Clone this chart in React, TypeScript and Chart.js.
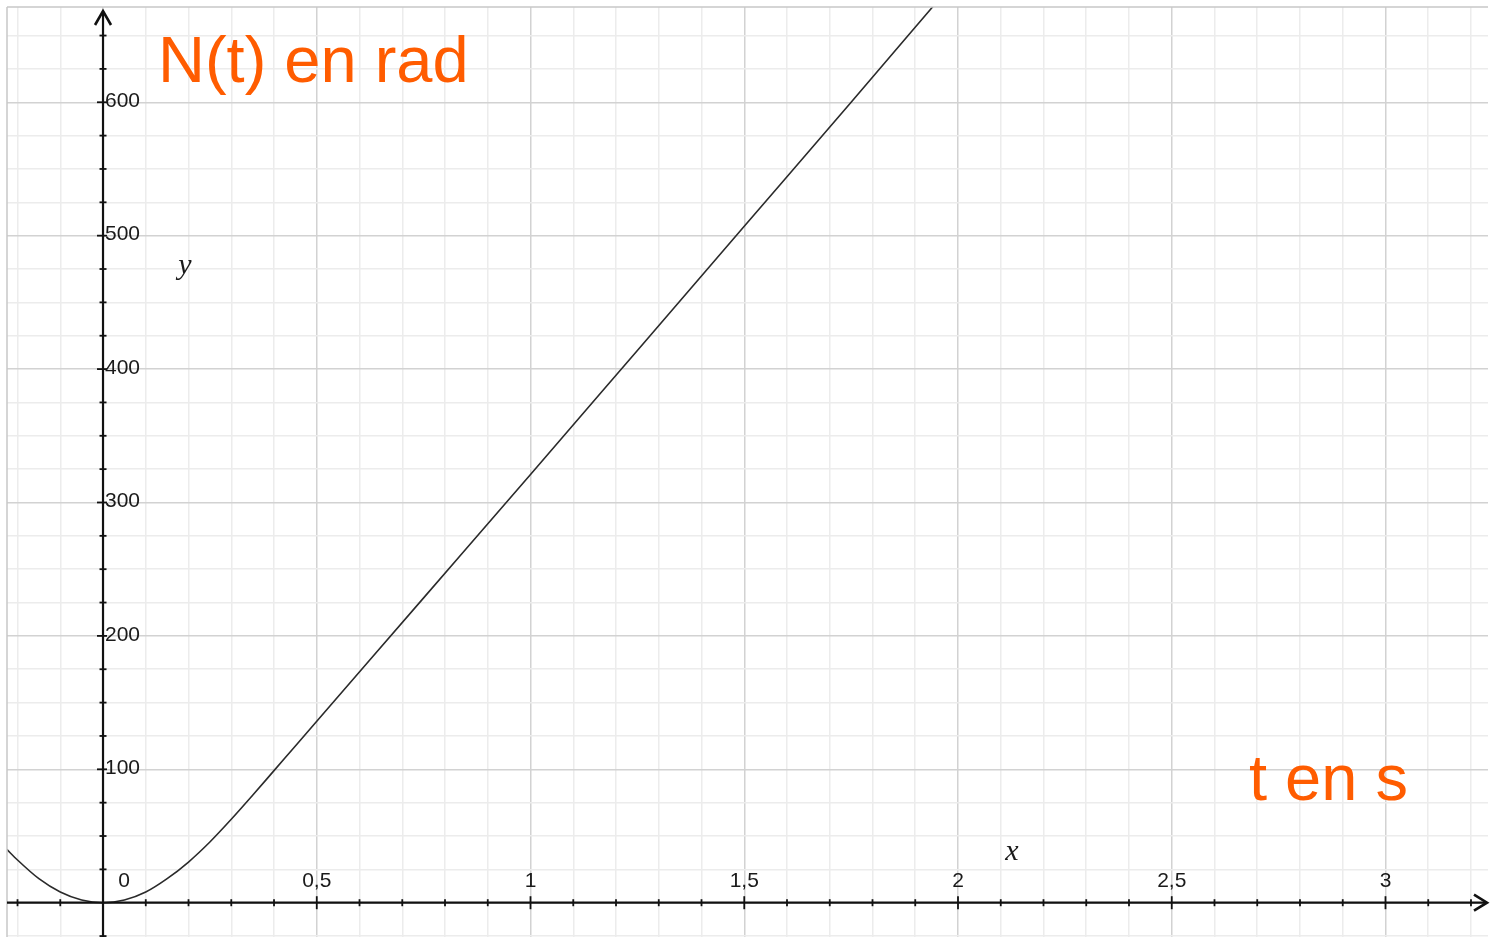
import React, { useEffect, useRef } from "react";
import { Chart, registerables } from "chart.js";

Chart.register(...registerables);

// Curve N(t)
const tValues = [-0.225, -0.2, -0.15, -0.1, -0.05, 0, 0.05, 0.1, 0.15, 0.2, 0.25, 0.3, 0.35, 0.4, 0.45, 0.5, 0.75, 1, 1.25, 1.5, 1.75, 1.95];
const nValues = [40, 32, 18, 8, 2, 0, 2, 8, 18, 30.5, 45.5, 62.5, 80.5, 99, 117.5, 136, 228.5, 321, 414, 507, 600, 675];

// Axis ranges
const xMin = -0.2246;
const xMax = 3.2398;
const yMin = -25.7;
const yMax = 671.4;

// Tick labels
const xTickValues = [0.5, 1, 1.5, 2, 2.5, 3];
const xTickLabels = ["0,5", "1", "1,5", "2", "2,5", "3"];
const yTickValues = [100, 200, 300, 400, 500, 600];
const yTickLabels = ["100", "200", "300", "400", "500", "600"];
const originLabel = "0";

// Grid steps (tenths of seconds / quarter hundreds)
const xGridTenths = [-2, 32];
const yGridQuarters = [-1, 26];

const yTitle = "N(t) en rad";
const xTitle = "t en s";

const ORANGE = "#ff5c00";
const SANS = '"Liberation Sans", Arial, sans-serif';
const SERIF = '"Liberation Serif", "DejaVu Serif", serif';

function isMultiple(v: number, step: number) {
  const r = v / step;
  return Math.abs(r - Math.round(r)) < 1e-6;
}

const axesPlugin = {
  id: "axesPlugin",
  afterDatasetsDraw(chart: any) {
    const ctx = chart.ctx as CanvasRenderingContext2D;
    const xs = chart.scales.x;
    const ys = chart.scales.y;
    const area = chart.chartArea;
    const x0 = xs.getPixelForValue(0);
    const y0 = ys.getPixelForValue(0);
    ctx.save();
    // border lines
    ctx.strokeStyle = "#c8c8c8";
    ctx.lineWidth = 1.5;
    ctx.beginPath();
    ctx.moveTo(area.left, area.top);
    ctx.lineTo(area.right, area.top);
    ctx.moveTo(area.left, area.top);
    ctx.lineTo(area.left, area.bottom);
    ctx.stroke();

    ctx.strokeStyle = "#111";
    ctx.fillStyle = "#111";
    ctx.lineWidth = 2.2;
    // x axis
    ctx.beginPath();
    ctx.moveTo(area.left, y0);
    ctx.lineTo(area.right - 1, y0);
    ctx.stroke();
    // y axis
    ctx.beginPath();
    ctx.moveTo(x0, area.bottom);
    ctx.lineTo(x0, area.top + 4);
    ctx.stroke();
    // arrows
    ctx.lineWidth = 2.6;
    ctx.lineJoin = "miter";
    ctx.beginPath();
    ctx.moveTo(area.right - 14, y0 - 8);
    ctx.lineTo(area.right - 1, y0);
    ctx.lineTo(area.right - 14, y0 + 8);
    ctx.stroke();
    ctx.beginPath();
    ctx.moveTo(x0 - 8, area.top + 18);
    ctx.lineTo(x0, area.top + 4);
    ctx.lineTo(x0 + 8, area.top + 18);
    ctx.stroke();

    // x ticks
    ctx.lineWidth = 1.8;
    for (let i = xGridTenths[0]; i <= xGridTenths[1]; i++) {
      if (i === 0) continue;
      const v = i / 10;
      const px = xs.getPixelForValue(v);
      const len = isMultiple(v, 0.5) ? 6.5 : 3.5;
      ctx.beginPath();
      ctx.moveTo(px, y0 - len);
      ctx.lineTo(px, y0 + len);
      ctx.stroke();
    }
    // y ticks
    for (let i = yGridQuarters[0]; i <= yGridQuarters[1]; i++) {
      if (i === 0) continue;
      const v = i * 25;
      const py = ys.getPixelForValue(v);
      const major = isMultiple(v, 100);
      ctx.beginPath();
      ctx.moveTo(x0 - (major ? 6 : 3.5), py);
      ctx.lineTo(x0 + (major ? 4 : 3.5), py);
      ctx.stroke();
    }

    // tick labels
    ctx.fillStyle = "#1a1a1a";
    ctx.font = `21px ${SANS}`;
    ctx.textBaseline = "middle";
    ctx.textAlign = "center";
    xTickValues.forEach((v, i) => {
      ctx.fillText(xTickLabels[i], xs.getPixelForValue(v), y0 - 22);
    });
    ctx.fillText(originLabel, x0 + 21, y0 - 22);
    ctx.textAlign = "left";
    yTickValues.forEach((v, i) => {
      ctx.fillText(yTickLabels[i], x0 + 2, ys.getPixelForValue(v) - 1);
    });

    // axis variable names
    ctx.font = `italic 30px ${SERIF}`;
    ctx.textAlign = "center";
    ctx.textBaseline = "alphabetic";
    ctx.fillText("y", 185, 274);
    ctx.fillText("x", 1012, 860);

    // orange titles
    ctx.fillStyle = ORANGE;
    ctx.font = `65px ${SANS}`;
    ctx.textAlign = "left";
    ctx.fillText(yTitle, 158, 82);
    ctx.fillText(xTitle, 1249, 800);
    ctx.restore();
  },
};

export default function App() {
  const ref = useRef<HTMLCanvasElement | null>(null);
  useEffect(() => {
    if (!ref.current) return;
    const chart = new Chart(ref.current, {
      type: "line",
      data: {
        datasets: [
          {
            data: tValues.map((t, i) => ({ x: t, y: nValues[i] })),
            borderColor: "#2a2a2a",
            borderWidth: 1.6,
            pointRadius: 0,
            cubicInterpolationMode: "monotone",
            fill: false,
          },
        ],
      },
      options: {
        responsive: false,
        animation: false,
        layout: { padding: { left: 7, top: 7, right: 13, bottom: 0 } },
        plugins: { legend: { display: false }, tooltip: { enabled: false } },
        scales: {
          x: {
            type: "linear",
            min: xMin,
            max: xMax,
            afterBuildTicks: (scale: any) => {
              const t = [];
              for (let i = xGridTenths[0]; i <= xGridTenths[1]; i++) t.push({ value: i / 10 });
              scale.ticks = t;
            },
            ticks: { display: false },
            border: { display: false },
            grid: {
              drawTicks: false,
              color: (c: any) => (isMultiple(c.tick.value, 0.5) ? "#d2d2d2" : "#ececec"),
              lineWidth: 1.5,
            },
          },
          y: {
            type: "linear",
            min: yMin,
            max: yMax,
            afterBuildTicks: (scale: any) => {
              const t = [];
              for (let i = yGridQuarters[0]; i <= yGridQuarters[1]; i++) t.push({ value: i * 25 });
              scale.ticks = t;
            },
            ticks: { display: false },
            border: { display: false },
            grid: {
              drawTicks: false,
              color: (c: any) => (isMultiple(c.tick.value, 100) ? "#d2d2d2" : "#ececec"),
              lineWidth: 1.5,
            },
          },
        },
      },
      plugins: [axesPlugin],
    });
    return () => chart.destroy();
  }, []);
  return (
    <div style={{ position: "fixed", left: 0, top: 0, width: 1501, height: 937, background: "#fff" }}>
      <canvas ref={ref} width={1501} height={937} style={{ display: "block" }} />
    </div>
  );
}
